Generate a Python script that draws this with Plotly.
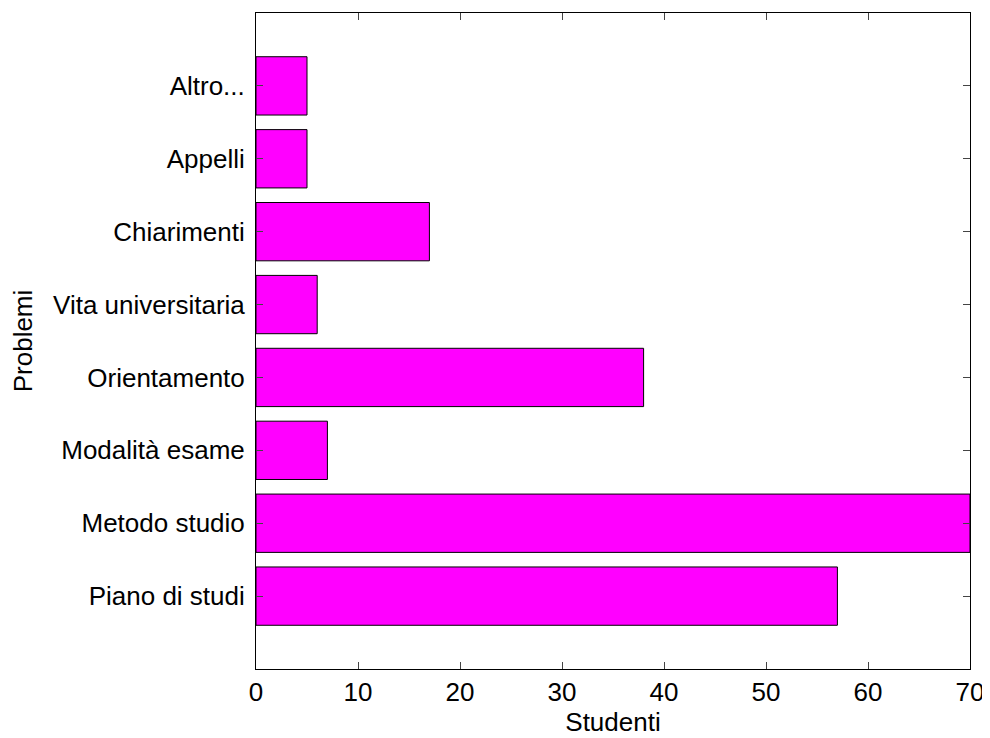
import plotly.graph_objects as go

categories = ["Piano di studi", "Metodo studio", "Modalità esame", "Orientamento",
              "Vita universitaria", "Chiarimenti", "Appelli", "Altro..."]
positions = [1, 2, 3, 4, 5, 6, 7, 8]
studenti = [57, 70, 7, 38, 6, 17, 5, 5]
x_ticks = [0, 10, 20, 30, 40, 50, 60, 70]

fig = go.Figure(go.Bar(
    x=studenti, y=positions, orientation="h", width=0.8,
    marker=dict(color="#FF00FF", line=dict(color="black", width=1)),
))

font = dict(family="Liberation Sans, Arial, sans-serif", size=26, color="black")
fig.update_layout(
    width=990, height=738,
    margin=dict(l=248, r=28, t=5, b=77, autoexpand=False),
    paper_bgcolor="white", plot_bgcolor="white",
    font=font, showlegend=False,
    xaxis=dict(range=[0, 70], tickvals=x_ticks, ticks="inside", ticklen=7,
               showline=True, linecolor="black", linewidth=1, mirror="ticks",
               showgrid=False, zeroline=False, ticklabelstandoff=0,
               title=dict(text="Studenti", font=font, standoff=2)),
    yaxis=dict(range=[0, 9], tickvals=positions, ticktext=categories,
               ticks="inside", ticklen=7, showline=True, linecolor="black",
               linewidth=1, mirror="ticks", showgrid=False, zeroline=False,
               ticklabelstandoff=5,
               title=dict(text="Problemi", font=font, standoff=14)),
)
fig.write_html("out.html")
